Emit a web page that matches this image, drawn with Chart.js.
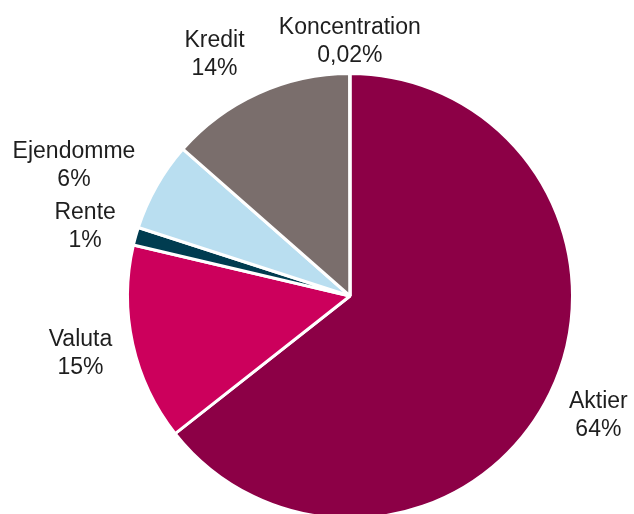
<!DOCTYPE html>
<html>
<head>
<meta charset="utf-8">
<script src="https://cdn.jsdelivr.net/npm/chart.js@4"></script>
<style>
    html, body { margin: 0; padding: 0; background: #fff; overflow: hidden; }
    #wrap { position: absolute; left: 0; top: 0; width: 634px; height: 524px; }
</style>
</head>
<body>
<div id="wrap"><canvas id="myChart"></canvas></div>
<script>
const categories = ['Aktier', 'Valuta', 'Rente', 'Ejendomme', 'Kredit', 'Koncentration'];
const shares = [64.4, 14.3, 1.3, 6.5, 13.5, 0.02]; // slice sizes
const shareLabels = ['64%', '15%', '1%', '6%', '14%', '0,02%']; // printed labels
const sliceColors = ['#8C0046', '#CC005C', '#003C50', '#B9DEF0', '#7A6E6C', '#8C0046'];

// label placement: distance from centre along slice middle, plus hand nudges
const labelDistance = 275;
const labelNudge = [[1, 0], [-1, -1], [0, 5], [-37, 6], [-22, 10], [0, 21]];

const outsideLabels = {
    id: 'outsideLabels',
    afterDatasetsDraw(chart) {
        const ctx = chart.ctx;
        const arcs = chart.getDatasetMeta(0).data;
        ctx.save();
        ctx.font = '23px "Liberation Sans", Arial, sans-serif';
        ctx.fillStyle = '#1e1e1e';
        ctx.textAlign = 'center';
        ctx.textBaseline = 'alphabetic';
        arcs.forEach((arc, i) => {
            const { x, y, startAngle, endAngle } = arc.getProps(['x', 'y', 'startAngle', 'endAngle'], true);
            const mid = (startAngle + endAngle) / 2;
            const lx = x + Math.cos(mid) * labelDistance + labelNudge[i][0];
            const ly = y + Math.sin(mid) * labelDistance + labelNudge[i][1];
            ctx.fillText(categories[i], lx, ly - 8);
            ctx.fillText(shareLabels[i], lx, ly + 20);
        });
        ctx.restore();
    },
};

new Chart(document.getElementById('myChart'), {
    type: 'pie',
    data: {
        labels: categories,
        datasets: [
            {
                data: shares,
                backgroundColor: sliceColors,
                borderColor: '#ffffff',
                borderWidth: 3,
            },
        ],
    },
    options: {
        responsive: true,
        maintainAspectRatio: false,
        animation: false,
        layout: { padding: { left: 126, right: 60, top: 72, bottom: 4 } },
        plugins: {
            legend: { display: false },
            tooltip: { enabled: false },
        },
    },
    plugins: [outsideLabels],
});
</script>
</body>
</html>
